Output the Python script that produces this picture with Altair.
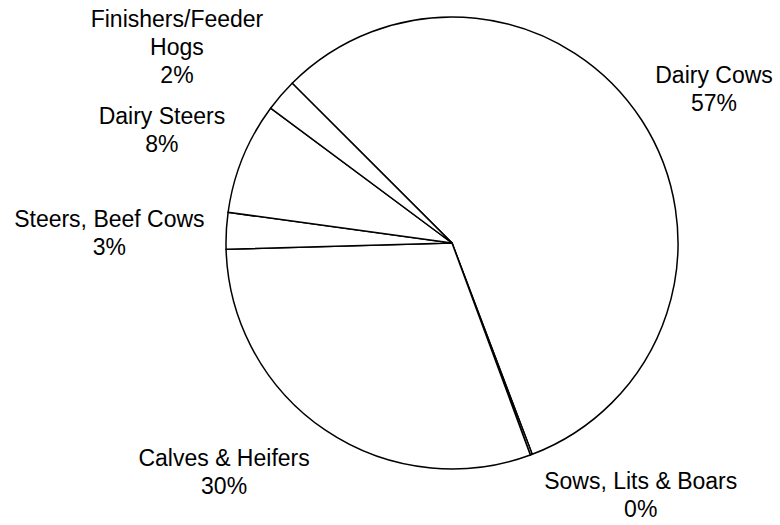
import math
import altair as alt
import pandas as pd

# ---- data ----
categories = ["Dairy Cows", "Sows, Lits & Boars", "Calves & Heifers",
              "Steers, Beef Cows", "Dairy Steers", "Finishers/Feeder Hogs"]
shares = [56.72, 0.14, 30.19, 2.61, 8.0, 2.33]
label_names = ["Dairy Cows", "Sows, Lits & Boars", "Calves & Heifers",
               "Steers, Beef Cows", "Dairy Steers", "Finishers/Feeder\nHogs"]

# ---- layout (first-line baseline of each label, polar, around the pie centre) ----
start_deg = 315.0
label_angle_deg = [58.6, 142.5, 225.6, 272.7, 292.3, 308.1]
label_dist = [307, 310, 319, 343, 313.5, 349.5]

total = sum(shares)
start = math.radians(start_deg)

df = pd.DataFrame({
    "category": categories,
    "share": shares,
    "order": list(range(len(categories))),
    "label": [f"{n}\n{round(v)}%" for n, v in zip(label_names, shares)],
    "label_theta": [math.radians(a) for a in label_angle_deg],
    "label_r": label_dist,
})

pie = alt.Chart(df).mark_arc(
    radius=226, fill="white", stroke="black", strokeWidth=1.5
).encode(
    theta=alt.Theta("share:Q", stack=True,
                    scale=alt.Scale(domain=[0, total], range=[start, start + 2 * math.pi])),
    order=alt.Order("order:Q"),
    detail=alt.Detail("category:N"),
)

labels = alt.Chart(df).mark_text(
    font="Liberation Sans", fontSize=23, lineHeight=28, lineBreak="\n",
    align="center", baseline="alphabetic", color="black"
).encode(
    theta=alt.Theta("label_theta:Q", scale=None, stack=False),
    radius=alt.Radius("label_r:Q", scale=None),
    text=alt.Text("label:N"),
)

chart = alt.layer(pie, labels).resolve_scale(
    theta="independent", radius="independent"
).properties(
    width=452, height=452,
    padding={"left": 226, "top": 17, "right": 102, "bottom": 56},
    autosize="none",
    background="white",
).configure_view(strokeWidth=0)

chart.save("out.html", embed_options={"renderer": "svg", "actions": False})
